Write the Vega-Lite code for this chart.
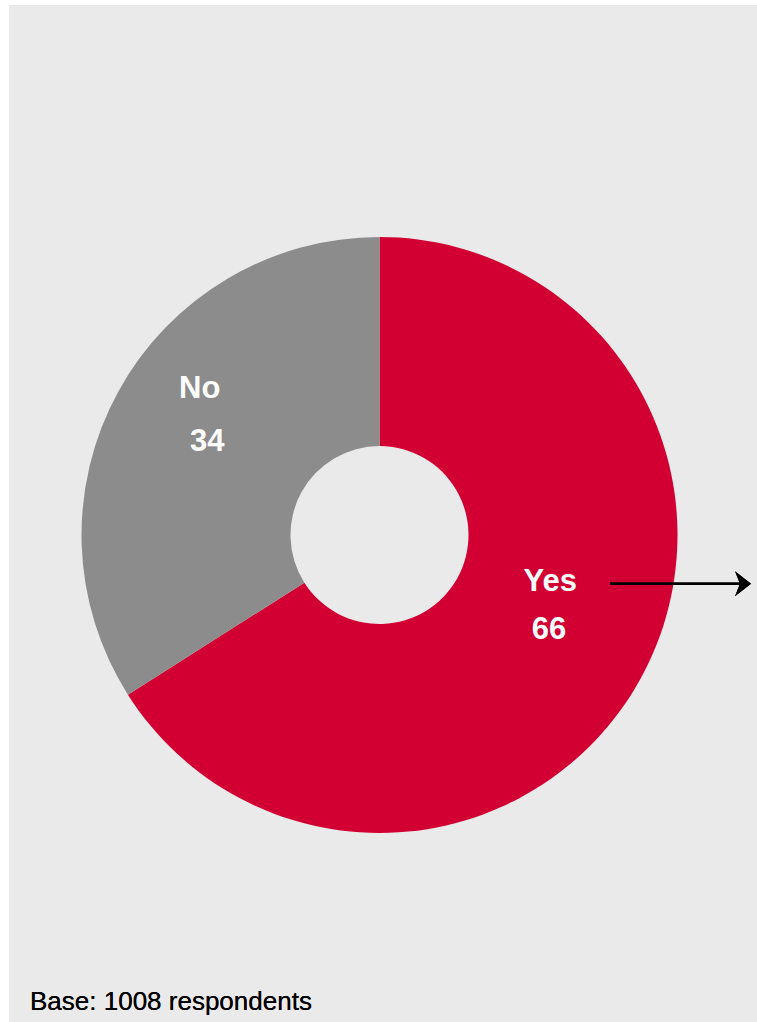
{
  "$schema": "https://vega.github.io/schema/vega-lite/v6.json",
  "width": 748,
  "height": 1017,
  "autosize": {"type": "none"},
  "padding": {"left": 9, "top": 5, "right": 0, "bottom": 0},
  "background": "#ffffff",
  "config": {"view": {"stroke": null, "fill": "#eaeaea"}},
  "data": {"values": [
    {"answer": "Yes", "pct": 66},
    {"answer": "No", "pct": 34}
  ]},
  "layer": [
    {
      "mark": {"type": "arc", "outerRadius": 298, "innerRadius": 89},
      "encoding": {
        "x": {"datum": 0, "type": "quantitative", "scale": {"domain": [-1.24329, 1.26678], "nice": false, "zero": false}, "axis": null},
        "y": {"datum": 0, "type": "quantitative", "scale": {"domain": [-1.63423, 1.77852], "nice": false, "zero": false}, "axis": null},
        "theta": {"field": "pct", "type": "quantitative", "stack": true},
        "order": {"field": "pct", "sort": "descending"},
        "color": {"field": "answer", "type": "nominal", "scale": {"domain": ["Yes", "No"], "range": ["#d20032", "#8c8c8c"]}, "legend": null}
      }
    },
    {
      "mark": {"type": "text", "radius": 200, "dx": -4.5, "dy": -49.5, "font": "Liberation Sans", "fontWeight": "bold", "fontSize": 31, "color": "#ffffff", "align": "center", "baseline": "middle"},
      "encoding": {
        "x": {"datum": 0, "type": "quantitative"},
        "y": {"datum": 0, "type": "quantitative"},
        "theta": {"field": "pct", "type": "quantitative", "stack": true},
        "order": {"field": "pct", "sort": "descending"},
        "text": {"field": "answer"}
      }
    },
    {
      "mark": {"type": "text", "radius": 195, "dx": -1.5, "dy": 1, "font": "Liberation Sans", "fontWeight": "bold", "fontSize": 31, "color": "#ffffff", "align": "center", "baseline": "middle"},
      "encoding": {
        "x": {"datum": 0, "type": "quantitative"},
        "y": {"datum": 0, "type": "quantitative"},
        "theta": {"field": "pct", "type": "quantitative", "stack": true},
        "order": {"field": "pct", "sort": "descending"},
        "text": {"field": "pct"}
      }
    },
    {
      "mark": {"type": "rule", "color": "#000000", "strokeWidth": 2.5},
      "encoding": {
        "x": {"datum": 0.7735, "type": "quantitative"},
        "x2": {"datum": 1.2164},
        "y": {"datum": -0.1634, "type": "quantitative"}
      }
    },
    {
      "mark": {"type": "point", "shape": "M0.64,0 L-0.64,-1 L-0.24,0 L-0.64,1 Z", "size": 625, "filled": true, "color": "#000000", "opacity": 1},
      "encoding": {
        "x": {"datum": 1.2198, "type": "quantitative"},
        "y": {"datum": -0.1634, "type": "quantitative"}
      }
    },
    {
      "mark": {"type": "text", "text": "Base: 1008 respondents", "font": "Liberation Sans", "fontSize": 26, "color": "#000000", "align": "left", "baseline": "alphabetic"},
      "encoding": {
        "x": {"datum": -1.1728, "type": "quantitative"},
        "y": {"datum": -1.5956, "type": "quantitative"}
      }
    }
  ]
}
